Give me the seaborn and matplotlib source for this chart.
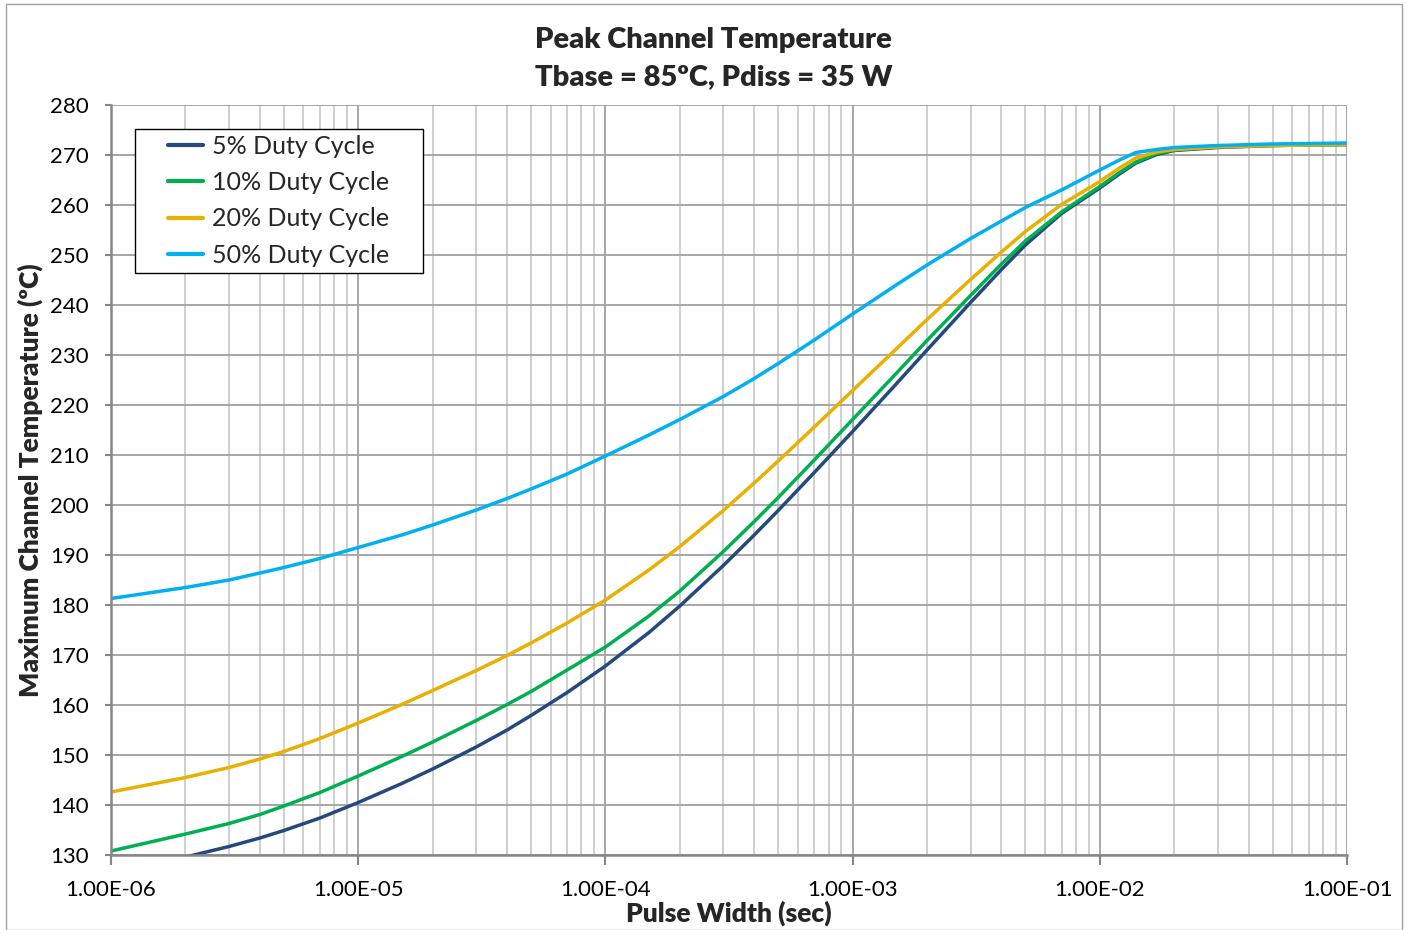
import numpy as np
import pandas as pd
import matplotlib
matplotlib.use("Agg")
import matplotlib.pyplot as plt
from matplotlib.ticker import FixedLocator, FuncFormatter, LogLocator, NullFormatter
from matplotlib.patches import Rectangle
import seaborn as sns

# Pulse widths (s) and peak channel temperatures (degC) per duty cycle
pulse_width = [1e-6, 2e-6, 3e-6, 4e-6, 5e-6, 7e-6, 1e-5, 1.5e-5, 2e-5, 3e-5, 4e-5, 5e-5,
               7e-5, 1e-4, 1.5e-4, 2e-4, 3e-4, 4e-4, 5e-4, 7e-4, 1e-3, 1.5e-3, 2e-3,
               3e-3, 4e-3, 5e-3, 7e-3, 1e-2, 1.2e-2, 1.4e-2, 1.7e-2, 2e-2, 3e-2, 5e-2, 1e-1]
duty_5 = [126.8, 129.6, 131.7, 133.4, 134.9, 137.4, 140.5, 144.3, 147.2, 151.6, 155.0, 157.9,
          162.5, 167.8, 174.5, 179.8, 187.9, 194.0, 198.9, 206.5, 214.7, 224.2, 231.0,
          240.5, 247.1, 252.0, 258.3, 263.4, 266.2, 268.4, 270.1, 270.9, 271.5, 271.9, 272.1]
duty_10 = [130.8, 134.2, 136.3, 138.1, 139.8, 142.5, 145.8, 149.7, 152.6, 156.9, 160.1, 162.7,
           167.0, 171.6, 177.8, 182.8, 190.7, 196.7, 201.5, 209.0, 217.1, 226.3, 232.9,
           241.9, 248.2, 252.8, 258.6, 263.7, 266.5, 268.6, 270.3, 271.0, 271.6, 271.9, 272.1]
duty_20 = [142.6, 145.5, 147.5, 149.2, 150.7, 153.3, 156.4, 160.1, 162.9, 166.9, 169.9, 172.4,
           176.4, 181.0, 187.0, 191.7, 198.9, 204.4, 208.8, 215.6, 222.9, 231.2, 237.1,
           245.1, 250.6, 254.7, 260.1, 264.7, 267.4, 269.4, 270.6, 271.1, 271.6, 271.9, 272.1]
duty_50 = [181.3, 183.5, 185.0, 186.4, 187.5, 189.3, 191.5, 194.0, 196.0, 199.0, 201.3, 203.2,
           206.2, 209.8, 214.0, 217.1, 221.7, 225.3, 228.3, 233.0, 238.2, 244.0, 248.0,
           253.3, 256.8, 259.5, 263.0, 267.0, 269.0, 270.5, 271.1, 271.5, 271.9, 272.2, 272.4]

series_names = ["5% Duty Cycle", "10% Duty Cycle", "20% Duty Cycle", "50% Duty Cycle"]
series_colors = ["#24497D", "#00B050", "#E8B000", "#00B0F0"]

x_ticks = [1e-6, 1e-5, 1e-4, 1e-3, 1e-2, 1e-1]
y_ticks = list(range(130, 281, 10))

frames = []
for name, vals in zip(series_names, [duty_5, duty_10, duty_20, duty_50]):
    frames.append(pd.DataFrame({"Pulse Width": pulse_width, "Temperature": vals, "Series": name}))
df = pd.concat(frames, ignore_index=True)

sns.set_theme(style="white")
plt.rcParams["font.family"] = ["Lato", "DejaVu Sans"]

fig = plt.figure(figsize=(14.08, 9.30), dpi=100)
ax = fig.add_axes([0.0788, 0.0806, 0.8779, 0.8065])

sns.lineplot(data=df, x="Pulse Width", y="Temperature", hue="Series",
             hue_order=series_names, palette=series_colors, linewidth=2.5,
             ax=ax, sort=False, estimator=None)

ax.set_xscale("log")
ax.set_xlim(1e-6, 1e-1)
ax.set_ylim(130, 280)

ax.xaxis.set_major_locator(FixedLocator(x_ticks))
ax.xaxis.set_major_formatter(FuncFormatter(lambda v, p: f"{v:.2E}"))
ax.xaxis.set_minor_locator(LogLocator(base=10, subs=np.arange(2, 10)))
ax.xaxis.set_minor_formatter(NullFormatter())
ax.yaxis.set_major_locator(FixedLocator(y_ticks))

ax.grid(True, which="major", axis="both", color="#A6A6A6", linewidth=1.4)
ax.grid(True, which="minor", axis="x", color="#CFCFCF", linewidth=1.4)
ax.set_axisbelow(True)

for side in ["top", "right"]:
    ax.spines[side].set_visible(False)
for side in ["left", "bottom"]:
    ax.spines[side].set_color("#868686")
    ax.spines[side].set_linewidth(1.8)

ax.tick_params(axis="x", which="major", direction="out", length=7, width=1.5,
               color="#868686", pad=11, labelsize=16, labelcolor="black", bottom=True)
ax.tick_params(axis="x", which="minor", length=0)
ax.tick_params(axis="y", which="major", direction="out", length=4, width=1.5,
               color="#868686", pad=12, labelsize=16, labelcolor="black", left=True)

ax.set_xlabel("Pulse Width (sec)", fontsize=19, fontweight="heavy", labelpad=0)
ax.set_ylabel("Maximum Channel Temperature (ºC)", fontsize=19, fontweight="heavy", labelpad=5)

fig.text(0.507, 0.957, "Peak Channel Temperature", ha="center", va="center",
         fontsize=21, fontweight="heavy")
fig.text(0.507, 0.917, "Tbase = 85ºC, Pdiss = 35 W", ha="center", va="center",
         fontsize=21, fontweight="heavy")

leg = ax.legend(loc="upper left", bbox_to_anchor=(0.0461, 0.960), fontsize=18,
                frameon=False, handlelength=1.4, handletextpad=0.35, borderpad=0.0,
                labelspacing=0.53, borderaxespad=0.0)
for line in leg.get_lines():
    line.set_linewidth(3.0)

# legend frame drawn around the measured legend contents
fig.canvas.draw()
bb = leg.get_window_extent(fig.canvas.get_renderer())
pad_l, pad_r, pad_v = 33, 34, 6
W, H = fig.bbox.width, fig.bbox.height
frame = Rectangle(((bb.x0 - pad_l) / W, (bb.y0 - pad_v) / H),
                  (bb.width + pad_l + pad_r) / W, (bb.height + 2 * pad_v) / H,
                  transform=fig.transFigure, fill=True, facecolor="white",
                  edgecolor="black", linewidth=1.0, zorder=4)
ax.add_artist(frame)
frame.set_clip_on(False)
leg.set_zorder(5)

# thin frame around the whole chart area
fig.patches.append(Rectangle((0.004, 0.0), 0.992, 0.996, transform=fig.transFigure,
                             fill=False, edgecolor="#A0A0A0", linewidth=1.0))

fig.savefig("out.png", dpi=100)
